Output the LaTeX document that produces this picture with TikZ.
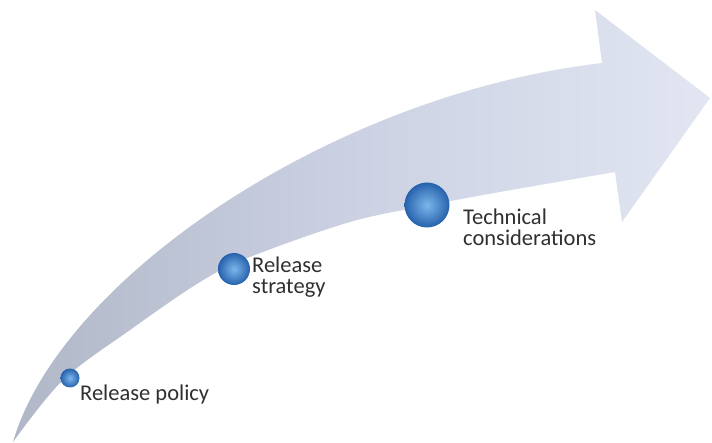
\documentclass[tikz,border=0pt]{standalone}
\usepackage{fontspec}
\setmainfont{Carlito}
\usepackage{tikz}
\usepackage{xcolor}
\usetikzlibrary{shapes}
\definecolor{tailgrey}{RGB}{176,183,199}
\definecolor{bodygrey}{RGB}{204,210,227}
\definecolor{headgrey}{RGB}{226,230,242}
\definecolor{stagelight}{RGB}{125,182,236}
\definecolor{stagedark}{RGB}{38,98,172}
\definecolor{labelgrey}{RGB}{48,48,48}

\begin{document}
\begin{tikzpicture}[x=1pt,y=-1pt,
	stage/.style={shape=circle, inner sep=0pt, shading=radial, inner color=stagelight, outer color=stagedark},
	stagetext/.style={anchor=base west, inner sep=0pt, align=left, text=labelgrey, font=\fontsize{22.5}{21}\selectfont}]
	\useasboundingbox (0, 0) rectangle (712, 443);
	
	\shade [left color=tailgrey, right color=headgrey, middle color=bodygrey]
		(13, 442) .. controls (60, 280) and (330, 95) .. (602, 63)
		-- (595, 10) -- (710, 98) -- (622, 222) -- (615, 172)
		-- plot [smooth, tension=0.55] coordinates {(615, 172) (500, 192) (430, 205) (350, 222) (250, 257) (200, 282) (130, 330) (63, 380) (13, 442)}
		-- cycle;
	
	\node [stage, minimum size=19pt] (policy) at (70, 378) {};
	\node [stage, minimum size=32pt] (strategy) at (234, 269) {};
	\node [stage, minimum size=45pt] (technical) at (427, 205) {};
	
	\node [stagetext] (policytext) at (80, 400) {Release policy};
	\node [stagetext] (strategytext) at (252, 294) {Release\\strategy};
	\node [stagetext] (technicaltext) at (463, 246) {Technical\\considerations};
\end{tikzpicture}
\end{document}
